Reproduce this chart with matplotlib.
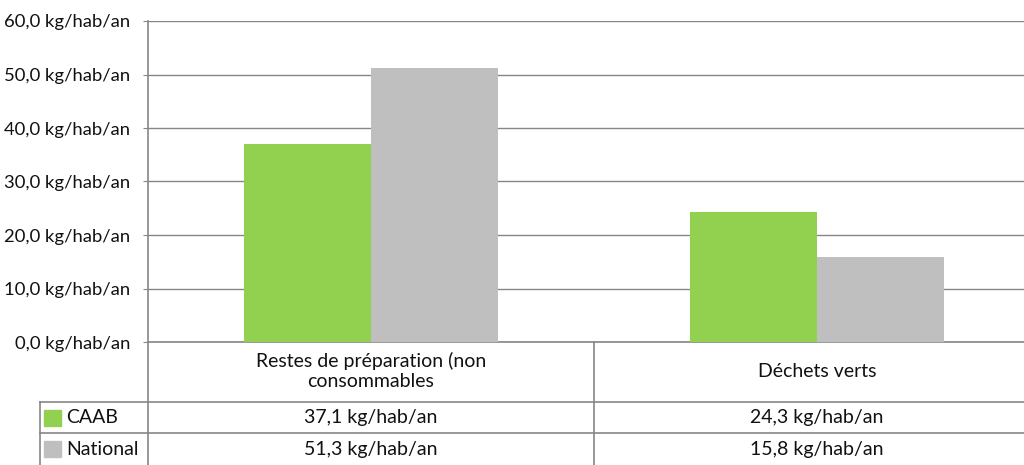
import matplotlib.pyplot as plt
from matplotlib.patches import Rectangle
import matplotlib.transforms as mtrans

plt.rcParams['font.family'] = ['Lato', 'DejaVu Sans']

# Data
categories = ['Restes de préparation (non\nconsommables', 'Déchets verts']
series = ['CAAB', 'National']
caab = [37.1, 24.3]
national = [51.3, 15.8]
values = [caab, national]
colors = ['#92D050', '#BFBFBF']
yticks = [0, 10, 20, 30, 40, 50, 60]

def fmt(v):
    return ('%.1f' % v).replace('.', ',') + ' kg/hab/an'

W, H = 1024, 465
fs = 14
txt_col = '#111111'
fig = plt.figure(figsize=(W / 100, H / 100), dpi=100)
# the chart continues past the right edge of the picture
ax = fig.add_axes([148 / W, (H - 342) / H, (1040 - 148) / W, 321 / H])

grid_col = '#868686'
bw = 0.285
x = range(len(categories))
for k in range(len(series)):
    off = (k - 0.5) * bw
    ax.bar([i + off for i in x], values[k], bw, color=colors[k], zorder=3)

ax.set_xlim(-0.5, len(categories) - 0.5)
ax.set_ylim(0, 60)
ax.set_yticks(yticks)
ax.set_yticklabels([fmt(v) for v in yticks], fontsize=13.3, color=txt_col)
ax.set_xticks([])
ax.yaxis.grid(True, color=grid_col, linewidth=1, zorder=0)
ax.tick_params(axis='y', length=3.6, color=grid_col, pad=9)
for s in ['top', 'right']:
    ax.spines[s].set_visible(False)
ax.spines['left'].set_color(grid_col)
ax.spines['bottom'].set_color(grid_col)
ax.spines['left'].set_linewidth(1.2)
ax.spines['bottom'].set_linewidth(1.2)

# Data table under the chart (figure pixel coords for rows)
def fy(py):
    return (H - py) / H

trans = mtrans.blended_transform_factory(ax.transData, fig.transFigure)
row_y = [342, 402, 433, 465]
lw = 1.2
for py in row_y[1:3]:
    fig.add_artist(plt.Line2D([40 / W, 1], [fy(py), fy(py)], color=grid_col, lw=lw))
fig.add_artist(plt.Line2D([40 / W, 40 / W], [fy(402), 0], color=grid_col, lw=lw))
fig.add_artist(plt.Line2D([148 / W, 148 / W], [fy(342), 0], color=grid_col, lw=lw))
for i in range(1, len(categories)):
    fig.add_artist(plt.Line2D([i - 0.5, i - 0.5], [fy(342), 0], color=grid_col, lw=lw,
                              transform=trans))

# header
for i, c in enumerate(categories):
    fig.text(i, fy(371), c, transform=trans, ha='center', va='center',
             fontsize=fs, color=txt_col, linespacing=1.25)

# rows
for k, name in enumerate(series):
    yc = (row_y[k + 1] + row_y[k + 2]) / 2
    fig.add_artist(Rectangle((44 / W, fy(yc + 8)), 17 / W, 16 / H,
                             transform=fig.transFigure, color=colors[k]))
    fig.text(66 / W, fy(yc), name, ha='left', va='center', fontsize=fs, color=txt_col)
    for i in range(len(categories)):
        fig.text(i, fy(yc), fmt(values[k][i]), transform=trans, ha='center',
                 va='center', fontsize=fs, color=txt_col)

plt.savefig('out.png', dpi=100)
